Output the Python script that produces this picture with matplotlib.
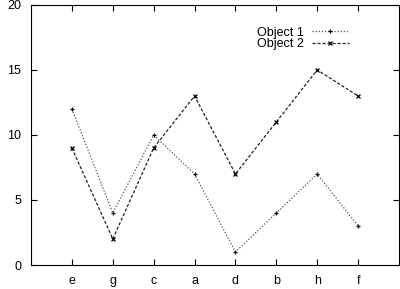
import matplotlib
matplotlib.use("Agg")
import matplotlib.pyplot as plt

categories = ['e', 'g', 'c', 'a', 'd', 'b', 'h', 'f']
object1 = [12, 4, 10, 7, 1, 4, 7, 3]
object2 = [9, 2, 9, 13, 7, 11, 15, 13]

plt.rcParams['font.family'] = ['Liberation Sans', 'DejaVu Sans']
plt.rcParams['font.size'] = 9

fig = plt.figure(figsize=(4.0, 2.89), dpi=100)
ax = fig.add_axes([0.0775, 0.083, 0.92, 0.9])

x = list(range(len(categories)))
ax.plot(x, object1, color='#555555', linestyle=(0, (1, 1.5)), linewidth=0.9,
        marker='+', markersize=3.2, markeredgewidth=0.9, markeredgecolor='black',
        label='Object 1')
ax.plot(x, object2, color='#222222', linestyle=(0, (2.5, 1.5)), linewidth=0.9,
        marker='x', markersize=2.8, markeredgewidth=0.9, markeredgecolor='black',
        label='Object 2')

ax.set_xlim(-1, 8)
ax.set_ylim(0, 20)
ax.set_xticks(x)
ax.set_xticklabels(categories)
ax.set_yticks([0, 5, 10, 15, 20])
ax.tick_params(direction='in', length=4, width=0.8, top=True, right=True, pad=7)
ax.tick_params(axis='y', right=True, labelright=False)
for s in ax.spines.values():
    s.set_linewidth(0.8)

leg = ax.legend(loc='upper right', bbox_to_anchor=(0.88, 0.94), frameon=False,
                markerfirst=False, handlelength=2.9, handletextpad=0.7,
                labelspacing=-0.05, borderpad=0, numpoints=1)

fig.savefig('out.png', dpi=100)
